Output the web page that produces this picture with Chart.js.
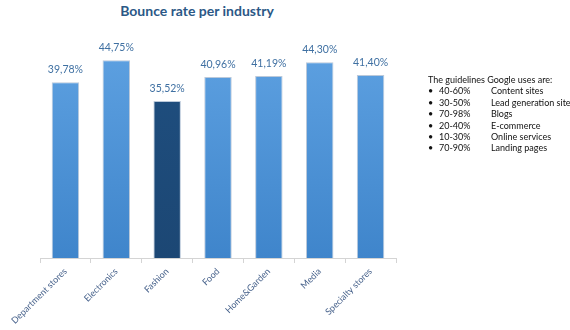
<!DOCTYPE html>
<html><head><meta charset="utf-8">
<script src="https://cdn.jsdelivr.net/npm/chart.js@4"></script>
<style>
html,body{margin:0;padding:0;background:#fff;}
#wrap{position:relative;width:570px;height:330px;overflow:hidden;font-family:Lato,"Open Sans",sans-serif;}
#title{position:absolute;left:0;width:394px;top:2px;text-align:center;font:bold 14px Lato,"Open Sans",sans-serif;color:#2b5886;}
#guide{position:absolute;left:428px;top:74px;font:9px Lato,"Open Sans",sans-serif;color:#111;line-height:11.4px;}
#guide .r{white-space:nowrap;}
#guide .b{display:inline-block;width:11px;}
#guide .p{display:inline-block;width:52px;}
canvas{position:absolute;left:0;top:0;}
</style></head>
<body><div id="wrap">
<div id="title">Bounce rate per industry</div>
<canvas id="c" width="570" height="330"></canvas>
<div id="guide"></div>
</div>
<script>
const categories = ["Department stores","Electronics","Fashion","Food","Home&Garden","Media","Specialty stores"];
const bounceRates = [39.78,44.75,35.52,40.96,41.19,44.30,41.40];
const valueLabels = ["39,78%","44,75%","35,52%","40,96%","41,19%","44,30%","41,40%"];
const highlightIndex = 2;
const guideTitle = "The guidelines Google uses are:";
const guideRanges = ["40-60%","30-50%","70-98%","20-40%","10-30%","70-90%"];
const guideSites = ["Content sites","Lead generation site","Blogs","E-commerce","Online services","Landing pages"];

const g = document.getElementById('guide');
let html = '<div class="r">'+guideTitle+'</div>';
guideRanges.forEach((r,i)=>{ html += '<div class="r"><span class="b">&#8226;</span><span class="p">'+r+'</span>'+guideSites[i]+'</div>'; });
g.innerHTML = html;

const labelPlugin = {
  id:'vlabels',
  afterDatasetsDraw(chart){
    const ctx = chart.ctx;
    const meta = chart.getDatasetMeta(0);
    ctx.save();
    ctx.font = '10.5px Lato, "Open Sans", sans-serif';
    ctx.fillStyle = '#3f70a2';
    ctx.textAlign = 'center';
    ctx.textBaseline = 'bottom';
    meta.data.forEach((bar,i)=>{ ctx.fillText(valueLabels[i], bar.x, bar.y - 7); });
    ctx.restore();
  }
};

function barColor(c){
  const chart = c.chart;
  const area = chart.chartArea;
  if(!area) return '#4f92d8';
  const ctx = chart.ctx;
  const grad = ctx.createLinearGradient(0, area.top, 0, area.bottom);
  if(c.dataIndex === highlightIndex){
    grad.addColorStop(0,'#1f4f80'); grad.addColorStop(1,'#1c4774');
  } else {
    grad.addColorStop(0,'#5fa2e2'); grad.addColorStop(1,'#3f85cb');
  }
  return grad;
}

new Chart(document.getElementById('c'),{
  type:'bar',
  data:{labels:categories,datasets:[{data:bounceRates,backgroundColor:barColor,borderColor:'rgba(60,100,150,0.35)',borderWidth:1,barPercentage:0.54,categoryPercentage:1}]},
  options:{
    responsive:false,animation:false,
    layout:{padding:{left:40,right:174,top:37,bottom:0}},
    plugins:{legend:{display:false},tooltip:{enabled:false}},
    scales:{
      y:{display:false,min:0,max:50},
      x:{
        grid:{display:true,drawOnChartArea:false,drawTicks:true,tickLength:5,color:'#d4d4d4',offset:true},
        border:{display:true,color:'#d4d4d4'},
        ticks:{minRotation:45,maxRotation:45,color:'#45608a',font:{size:9,family:'Lato, "Open Sans", sans-serif'},padding:3},
        afterFit(s){ s.height = 72; }
      }
    }
  },
  plugins:[labelPlugin]
});
</script></body></html>
